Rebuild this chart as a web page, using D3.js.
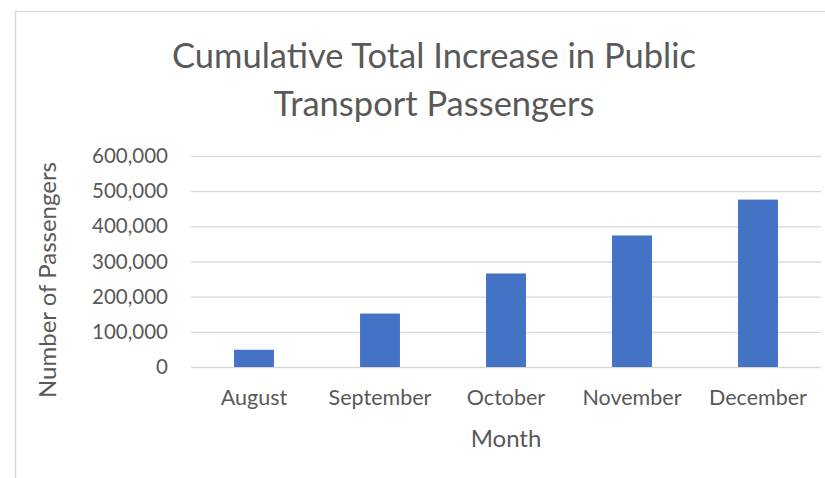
<!DOCTYPE html>
<html>
<head>
<meta charset="utf-8">
<script src="https://cdn.jsdelivr.net/npm/d3@7"></script>
<style>
  body { margin: 0; background: #fff; }
  svg { display: block; font-family: Lato, "Open Sans", sans-serif; }
</style>
</head>
<body>
<div id="chart"></div>
<script>
// data
const months = ["August", "September", "October", "November", "December"];
const passengers = [49000, 152000, 266000, 374000, 476000];
const yTicks = [0, 100000, 200000, 300000, 400000, 500000, 600000];
const titleLines = ["Cumulative Total Increase in Public", "Transport Passengers"];

const width = 825, height = 478;
const plot = { left: 191, right: 821, top: 156, bottom: 367 };
const textColor = "#595959";
const gridColor = "#d9d9d9";

const svg = d3.select("#chart")
    .append("svg")
    .attr("width", width)
    .attr("height", height);

// chart area border (cropped on the right/bottom)
svg.append("rect")
    .attr("x", 15.5)
    .attr("y", 11.5)
    .attr("width", 900)
    .attr("height", 600)
    .attr("fill", "#fff")
    .attr("stroke", gridColor)
    .attr("stroke-width", 1.5);

const x = d3.scaleBand()
    .domain(months)
    .range([plot.left, plot.right])
    .paddingInner(0.683)
    .paddingOuter(0.3415);

const y = d3.scaleLinear()
    .domain([0, 600000])
    .range([plot.bottom, plot.top]);

// y axis with gridlines
const yAxis = svg.append("g")
    .attr("transform", `translate(${plot.left},0)`)
    .call(d3.axisLeft(y)
        .tickValues(yTicks)
        .tickFormat(d3.format(","))
        .tickSize(-(plot.right - plot.left))
        .tickPadding(23));
yAxis.select(".domain").remove();
yAxis.selectAll(".tick line")
    .attr("stroke", gridColor)
    .attr("stroke-width", 1.3);
yAxis.selectAll(".tick text")
    .attr("fill", textColor)
    .attr("font-size", 20.5)
    .attr("font-family", "Lato");

// bars
svg.selectAll(".bar")
    .data(months.map((m, i) => ({ month: m, value: passengers[i] })))
    .enter()
    .append("rect")
    .attr("class", "bar")
    .attr("x", d => x(d.month))
    .attr("y", d => y(d.value))
    .attr("width", x.bandwidth())
    .attr("height", d => y(0) - y(d.value))
    .attr("fill", "#4472c4");

// x axis labels
const xAxis = svg.append("g")
    .attr("transform", `translate(0,${plot.bottom})`)
    .call(d3.axisBottom(x).tickSize(0));
xAxis.select(".domain").remove();
xAxis.selectAll(".tick text")
    .attr("y", 38)
    .attr("dy", 0)
    .attr("fill", textColor)
    .attr("font-size", 21.5)
    .attr("font-family", "Lato");

// titles
svg.selectAll(".title")
    .data(titleLines)
    .enter()
    .append("text")
    .attr("class", "title")
    .attr("x", 434)
    .attr("y", (d, i) => 68 + i * 48)
    .attr("text-anchor", "middle")
    .attr("fill", textColor)
    .attr("font-size", 34.5)
    .text(d => d);

svg.append("text")
    .attr("x", (plot.left + plot.right) / 2)
    .attr("y", 447)
    .attr("text-anchor", "middle")
    .attr("fill", textColor)
    .attr("font-size", 24)
    .text("Month");

svg.append("text")
    .attr("transform", "translate(56,280) rotate(-90)")
    .attr("text-anchor", "middle")
    .attr("fill", textColor)
    .attr("font-size", 24)
    .text("Number of Passengers");
</script>
</body>
</html>
